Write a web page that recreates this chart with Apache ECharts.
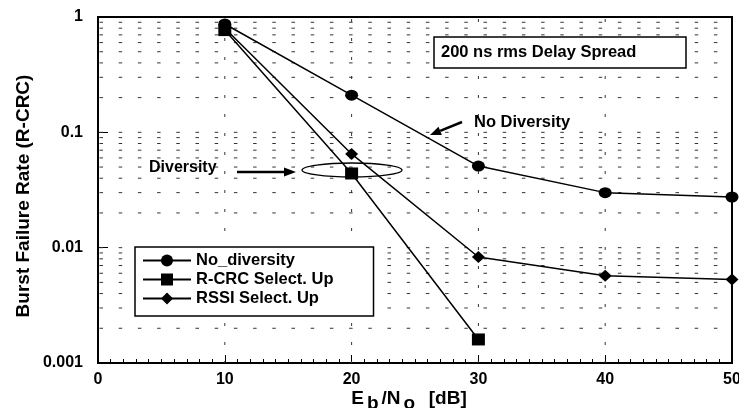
<!DOCTYPE html>
<html>
<head>
<meta charset="utf-8">
<script src="https://cdn.jsdelivr.net/npm/echarts@6/dist/echarts.min.js"></script>
<style>
  html, body { margin: 0; padding: 0; background: #fff; }
  #chart { width: 739px; height: 408px; }
</style>
</head>
<body>
<div id="chart"></div>
<script>
// Burst failure rate vs Eb/No, 200 ns rms delay spread
const ebNo = [10, 20, 30, 40, 50];
const noDiversity = [0.87, 0.21, 0.051, 0.030, 0.0275];
const rcrcSelect = [0.77, 0.044, 0.0016];
const rssiSelect = [0.80, 0.065, 0.0083, 0.0057, 0.0053];
const seriesNames = ['No_diversity', 'R-CRC Select. Up', 'RSSI Select. Up'];
const yTickLabels = ['0.001', '0.01', '0.1', '1'];
const gridXValues = [10, 20, 30, 40];
const gridYMultipliers = [1, 2, 3, 4, 5, 6, 7, 8, 9];
const gridYDecades = [0.001, 0.01, 0.1];

const FONT = "'Liberation Sans', Arial, sans-serif";

function pairs(xs, ys) {
  return ys.map((y, i) => [xs[i], y]);
}

// horizontal dashed grid at every log sub-division
const hGrid = [];
gridYDecades.forEach(d => gridYMultipliers.forEach(m => {
  if (!(d === 0.001 && m === 1)) hGrid.push([0, +(d * m).toPrecision(3)]);
}));
const vGrid = gridXValues.map(x => [x, 1]);

const chart = echarts.init(document.getElementById('chart'));

function arrow(x1, y1, x2, y2, head, halfW) {
  const ang = Math.atan2(y2 - y1, x2 - x1);
  const bx = x2 - head * Math.cos(ang), by = y2 - head * Math.sin(ang);
  const nx = -Math.sin(ang) * halfW, ny = Math.cos(ang) * halfW;
  return {
    type: 'group', z: 20,
    children: [
      { type: 'line', shape: { x1: x1, y1: y1, x2: bx, y2: by }, style: { stroke: '#000', lineWidth: 2.5 } },
      { type: 'polygon', shape: { points: [[x2, y2], [bx + nx, by + ny], [bx - nx, by - ny]] }, style: { fill: '#000' } }
    ]
  };
}

const lineCommon = {
  type: 'line',
  z: 5,
  lineStyle: { color: '#000', width: 1.5 },
  itemStyle: { color: '#000' },
  symbolSize: 12,
  emphasis: { disabled: true },
  animation: false
};

const boldText = size => ({ fontFamily: FONT, fontWeight: 'bold', fontSize: size, color: '#000' });

chart.setOption({
  animation: false,
  textStyle: { fontFamily: FONT },
  grid: {
    left: 98, right: 7, top: 17, bottom: 45,
    outerBoundsMode: 'none',
    containLabel: false,
    show: true, borderColor: '#000', borderWidth: 2
  },
  title: {
    text: '200 ns rms Delay Spread',
    left: 434, top: 37,
    padding: [7, 50, 7, 7],
    borderColor: '#000', borderWidth: 1.5,
    backgroundColor: '#fff',
    textStyle: boldText(16.5)
  },
  legend: {
    data: seriesNames,
    orient: 'vertical',
    left: 135, top: 247,
    padding: [5, 40, 9, 7],
    itemWidth: 48, itemHeight: 15, itemGap: 2,
    borderColor: '#000', borderWidth: 1.5,
    backgroundColor: '#fff',
    selectedMode: false,
    textStyle: boldText(16.5)
  },
  xAxis: {
    type: 'value', min: 0, max: 50, interval: 10,
    name: '{n|E}{s|b}{n|/N}{s|o}{n|  [dB]}',
    nameLocation: 'middle', nameGap: 26,
    nameMoveOverlap: false,
    nameTextStyle: {
      padding: [0, 12, 0, 0],
      rich: {
        n: Object.assign(boldText(19), { verticalAlign: 'top', lineHeight: 21 }),
        s: Object.assign(boldText(19), { verticalAlign: 'top', lineHeight: 21, padding: [5, 3, 0, 3] })
      }
    },
    axisLine: { lineStyle: { color: '#000', width: 2 } },
    axisTick: { inside: true, length: 8, lineStyle: { color: '#000', width: 1 } },
    minorTick: { show: true, splitNumber: 10, length: 4, lineStyle: { color: '#000', width: 1 } },
    splitLine: { show: false },
    axisLabel: Object.assign(boldText(16), { margin: 9 })
  },
  yAxis: {
    type: 'log', logBase: 10, min: 0.001, max: 1,
    name: 'Burst Failure Rate (R-CRC)',
    nameLocation: 'middle', nameRotate: 90, nameGap: 65,
    nameMoveOverlap: false,
    nameTextStyle: Object.assign(boldText(19), { padding: [0, 12, 0, 0] }),
    axisLine: { lineStyle: { color: '#000', width: 2 } },
    axisTick: { inside: true, length: 10, lineStyle: { color: '#000', width: 1 } },
    splitLine: { show: false },
    axisLabel: Object.assign(boldText(16), {
      margin: 15,
      formatter: v => yTickLabels[Math.round(Math.log10(v)) + 3]
    })
  },
  series: [
    {
      type: 'custom', name: 'hgrid', z: 1, silent: true,
      data: hGrid,
      renderItem: (params, api) => {
        const a = api.coord([0, api.value(1)]);
        const b = api.coord([50, api.value(1)]);
        return {
          type: 'line',
          shape: { x1: a[0] + 1.5, y1: a[1], x2: b[0] - 1, y2: b[1] },
          style: { stroke: '#333', lineWidth: 1, lineDash: [3.5, 15.7] }
        };
      }
    },
    {
      type: 'custom', name: 'vgrid', z: 1, silent: true,
      data: vGrid,
      renderItem: (params, api) => {
        const a = api.coord([api.value(0), 1]);
        const b = api.coord([api.value(0), 0.001]);
        return {
          type: 'line',
          shape: { x1: a[0], y1: a[1] + 2, x2: b[0], y2: b[1] },
          style: { stroke: '#333', lineWidth: 1, lineDash: [3, 16] }
        };
      }
    },
    Object.assign({}, lineCommon, { name: seriesNames[0], symbol: 'circle', symbolSize: [13, 11], data: pairs(ebNo, noDiversity) }),
    Object.assign({}, lineCommon, { name: seriesNames[1], symbol: 'rect', symbolSize: [13, 12], data: pairs(ebNo, rcrcSelect) }),
    Object.assign({}, lineCommon, { name: seriesNames[2], symbol: 'diamond', symbolSize: [13, 12], data: pairs(ebNo, rssiSelect) })
  ],
  graphic: [
    {
      type: 'text', left: 474, top: 114, z: 20,
      style: { text: 'No Diversity', fontFamily: FONT, fontWeight: 'bold', fontSize: 16.5, fill: '#000' }
    },
    arrow(462, 122, 430, 135, 11, 4.5),
    {
      type: 'text', left: 149, top: 160, z: 20,
      style: { text: 'Diversity', fontFamily: FONT, fontWeight: 'bold', fontSize: 16, fill: '#000' }
    },
    arrow(237, 172, 296, 172, 12, 4.5),
    {
      type: 'ellipse', z: 20,
      shape: { cx: 352, cy: 170, rx: 50, ry: 7 },
      style: { fill: 'none', stroke: '#000', lineWidth: 1.3 }
    }
  ]
});
</script>
</body>
</html>
